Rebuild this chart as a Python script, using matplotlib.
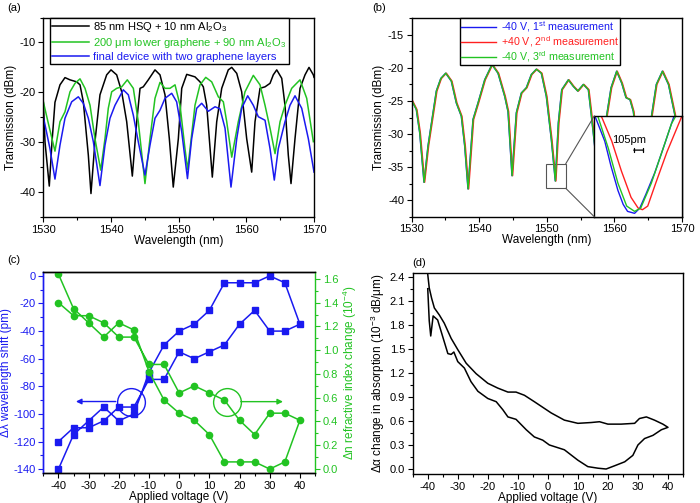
import matplotlib
matplotlib.use('Agg')
import matplotlib.pyplot as plt
from matplotlib.patches import Rectangle, ConnectionPatch
from matplotlib.ticker import MultipleLocator

plt.rcParams['font.family'] = ['Liberation Sans', 'DejaVu Sans']
plt.rcParams['font.size'] = 8
plt.rcParams['mathtext.fontset'] = 'custom'
plt.rcParams['mathtext.rm'] = 'Liberation Sans'
plt.rcParams['mathtext.it'] = 'Liberation Sans:italic'
plt.rcParams['axes.unicode_minus'] = False
plt.rcParams['axes.linewidth'] = 1.0

BLUE = '#1a1af0'
GREEN = '#22c322'
RED = '#ff2020'

# (a) transmission spectra
wl_hsq = [1530.0, 1530.25, 1530.88, 1531.28, 1531.72, 1532.46, 1533.2, 1533.94, 1534.93, 1535.42,
          1535.91, 1536.65, 1537.04, 1537.63, 1538.37, 1539.36, 1540.0, 1540.84, 1541.58, 1542.32,
          1543.15, 1543.8, 1544.29, 1544.77, 1545.51, 1546.5, 1547.24, 1547.98, 1548.62, 1549.2,
          1549.95, 1550.45, 1551.19, 1552.41, 1553.15, 1553.64, 1554.14, 1554.97, 1555.62, 1556.36,
          1557.33, 1557.84, 1558.58, 1559.31, 1560.05, 1560.79, 1561.28, 1562.02, 1562.76, 1563.5,
          1563.98, 1564.49, 1565.23, 1565.71, 1566.2, 1566.6, 1567.19, 1567.93, 1568.67, 1569.26,
          1569.9, 1570.0]
tr_hsq = [-22, -30, -38.8, -30, -22, -18.5, -17.05, -17.5, -17.9, -18.5,
          -21.9, -32.6, -40.3, -29.9, -20.5, -16.5, -15.5, -16.5, -19.9, -25.9,
          -36.8, -25.9, -19.2, -18.9, -17.5, -15.5, -16.5, -20.5, -29.3, -39,
          -29.3, -19.2, -16.4, -16.9, -17.9, -18.9, -22.6, -37, -25.9, -19.2,
          -15.5, -15.0, -16.2, -19.9, -29.3, -36, -25.9, -19.2, -18.9, -18.2,
          -16.5, -15.5, -17.2, -22.6, -32.6, -38.3, -29.3, -19.2, -16.5, -15.0,
          -16.5, -17.0]

wl_lower = [1530.0, 1530.7, 1531.72, 1532.46, 1533.2, 1533.94, 1534.68, 1535.42, 1536.16, 1536.9,
            1537.63, 1538.48, 1539.11, 1539.6, 1540.1, 1540.84, 1541.58, 1542.41, 1543.3, 1544.03,
            1545.02, 1545.76, 1546.5, 1547.24, 1547.98, 1548.72, 1549.46, 1550.2, 1550.93, 1551.33,
            1552.41, 1553.15, 1554.0, 1554.88, 1555.86, 1556.6, 1557.1, 1557.84, 1558.81, 1559.8,
            1561.03, 1562.02, 1562.76, 1563.5, 1564.24, 1564.98, 1565.71, 1566.7, 1567.93, 1568.92,
            1569.9]
tr_lower = [-21.9, -26, -31.8, -25.9, -23.9, -19.9, -18.2, -17.3, -19.2, -22.6,
            -29.3, -35.6, -29.3, -23.2, -19.9, -19.2, -18.9, -17.5, -19.2, -25.9,
            -38.3, -29.3, -21.2, -18.0, -19.2, -19.2, -18.5, -22.6, -31.3, -35.5,
            -22.6, -18.5, -17.0, -17.9, -20.9, -21.9, -25.9, -33.0, -25.9, -19.9,
            -16.6, -18.5, -22.6, -27.2, -32.3, -25.9, -22.6, -19.2, -17.5, -21.2,
            -29.9]

wl_final = [1530.0, 1530.98, 1531.72, 1532.46, 1533.2, 1534.19, 1535.17, 1535.91, 1536.65, 1537.39,
            1538.37, 1539.11, 1539.85, 1540.59, 1541.82, 1542.56, 1543.3, 1544.03, 1545.02, 1545.76,
            1546.5, 1547.24, 1547.98, 1548.97, 1549.7, 1550.45, 1551.3, 1551.92, 1552.66, 1553.4,
            1554.38, 1555.37, 1556.1, 1556.85, 1557.73, 1558.58, 1559.31, 1560.2, 1561.03, 1561.77,
            1562.76, 1563.5, 1564.13, 1564.72, 1565.71, 1566.45, 1567.19, 1568.18, 1569.16, 1570.0]
tr_final = [-24.9, -31.3, -37.4, -30.6, -25.2, -21.9, -20.9, -22.2, -25.2, -29.9,
            -38.7, -30.6, -25.2, -22.6, -19.5, -20.5, -24.6, -29.9, -36.6, -30.6,
            -25.2, -23.6, -21.2, -20.2, -21.9, -27.9, -37.3, -29.3, -23.2, -22.2,
            -23.8, -22.9, -23.3, -27.2, -39.0, -29.3, -23.2, -20.7, -22.6, -24.9,
            -25.6, -31.3, -37.6, -31.3, -25.9, -22.6, -20.7, -23.2, -29.3, -36.0]

# (b) repeated measurements (one trace, shifted per measurement)
wl_meas = [1530.0, 1530.68, 1531.18, 1531.82, 1532.41, 1533.15, 1533.64, 1534.3, 1535.03, 1535.86,
           1536.6, 1537.34, 1537.84, 1538.33, 1539.07, 1539.81, 1540.8, 1541.88, 1542.77, 1543.76,
           1544.25, 1544.84, 1545.48, 1546.22, 1546.96, 1547.7, 1548.44, 1549.18, 1549.92, 1550.66,
           1551.25, 1551.7, 1552.2, 1553.18, 1553.92, 1554.57, 1555.4, 1556.14, 1556.54, 1557.1,
           1557.6, 1558.2, 1558.85, 1559.5, 1560.33, 1561.08, 1561.71, 1562.3, 1562.8, 1563.5,
           1564.2, 1564.9, 1565.5, 1566.2, 1567.1, 1568.0, 1568.96, 1570.0]
tr_meas = [-24.9, -26.3, -29.8, -37.3, -31.8, -26.8, -23.5, -21.6, -20.8, -22.0,
           -25.3, -27.3, -31.8, -38.3, -27.8, -25.3, -21.8, -19.5, -20.8, -24.3,
           -26.6, -36.3, -26.8, -23.8, -23.0, -21.0, -20.2, -20.8, -24.3, -30.8,
           -37.1, -28.3, -23.3, -21.8, -22.8, -23.5, -22.5, -23.3, -26.8, -32,
           -40, -34, -27.2, -23.0, -20.5, -22.3, -24.5, -24.8, -26.6, -33,
           -41, -33, -27.2, -22.5, -20.5, -22.5, -27.2, -33]
meas_labels = ['-40 V, 1$^{\\rm st}$ measurement', '+40 V, 2$^{\\rm nd}$ measurement',
               '-40 V, 3$^{\\rm rd}$ measurement']
meas_colors = [BLUE, RED, GREEN]
meas_shift_nm = [0.0, 0.105, 0.02]

# (b) inset: zoom on the 1551 nm resonance
ins_wl_1 = [1550.758, 1550.87, 1550.94, 1551.02, 1551.08, 1551.13, 1551.21, 1551.27, 1551.34, 1551.44, 1551.55, 1551.66]
ins_tr_1 = [-34.0, -34.9, -35.78, -36.66, -37.16, -37.41, -37.48, -37.29, -36.79, -36.03, -35.03, -34.0]
ins_wl_2 = [1550.83, 1550.95, 1551.06, 1551.17, 1551.25, 1551.3, 1551.36, 1551.45, 1551.58, 1551.75]
ins_tr_2 = [-34.0, -34.9, -35.97, -36.91, -37.29, -37.35, -37.22, -36.41, -35.28, -34.0]
ins_wl_3 = [1550.79, 1550.91, 1551.02, 1551.12, 1551.21, 1551.28, 1551.4, 1551.51, 1551.63, 1551.68]
ins_tr_3 = [-34.0, -35.15, -36.4, -37.22, -37.41, -37.29, -36.41, -35.4, -34.28, -34.0]

# (c) resonance shift and index change vs voltage (sweep up, then down)
volt_up = [-40, -35, -30, -25, -20, -15, -10, -5, 0, 5, 10, 15, 20, 25, 30, 35, 40]
volt_down = [35, 30, 25, 20, 15, 10, 5, 0, -5, -10, -15, -20, -25, -30, -35, -40]
shift_up = [-140, -115, -105, -95, -105, -100, -70, -50, -40, -35, -25, -5, -5, -5, 0, -5, -35]
shift_down = [-40, -40, -25, -35, -50, -55, -60, -55, -75, -75, -95, -95, -105, -110, -110, -120]
dn_up = [1.64, 1.35, 1.23, 1.11, 1.23, 1.17, 0.82, 0.58, 0.47, 0.41, 0.29, 0.06, 0.06, 0.06, 0.0, 0.06, 0.41]
dn_down = [0.47, 0.47, 0.29, 0.41, 0.58, 0.64, 0.70, 0.64, 0.88, 0.88, 1.11, 1.11, 1.23, 1.29, 1.29, 1.40]

# (d) absorption change loop
volt_d = [-40.0, -39.5, -39.0, -38.2, -36.7, -35.0, -33.3, -32.2, -31.3, -30.0,
          -27.8, -25.6, -23.3, -20.0, -17.2, -15.0, -13.3, -10.6, -7.2, -4.5,
          -1.7, 0.5, 5.5, 10.0, 13.3, 16.7, 19.4, 22.2, 25.6, 28.3,
          30.0, 32.2, 35.0, 37.8, 40.0,
          38.3, 35.5, 32.8, 30.5, 28.9, 24.4, 20.0, 17.2, 14.4, 10.0,
          5.5, 1.1, -4.5, -7.8, -10.6, -13.3, -16.7, -20.0, -23.9, -27.2,
          -30.0, -32.2, -34.5, -36.1, -37.8, -38.7, -39.5, -40.0]
alpha_d = [2.25, 1.85, 1.66, 1.91, 1.86, 1.65, 1.44, 1.43, 1.46, 1.34,
           1.26, 1.09, 0.97, 0.88, 0.84, 0.74, 0.65, 0.62, 0.49, 0.40,
           0.36, 0.30, 0.24, 0.11, 0.03, 0.01, 0.0, 0.04, 0.09, 0.17,
           0.30, 0.38, 0.42, 0.49, 0.52,
           0.56, 0.61, 0.65, 0.63, 0.57, 0.56, 0.56, 0.59, 0.58, 0.57,
           0.61, 0.70, 0.84, 0.92, 0.96, 0.96, 1.01, 1.07, 1.19, 1.32,
           1.49, 1.63, 1.82, 1.92, 2.01, 2.13, 2.26, 2.43]

fig = plt.figure(figsize=(7, 5.03), dpi=100)
ax_a = fig.add_axes([0.0619, 0.5686, 0.3867, 0.3966])
ax_b = fig.add_axes([0.5881, 0.5692, 0.3861, 0.3944])
ax_c = fig.add_axes([0.0619, 0.0590, 0.3881, 0.4008])
ax_d = fig.add_axes([0.5896, 0.0577, 0.3861, 0.4002])

def style(ax):
    ax.tick_params(which='major', length=3.5, width=0.8, labelsize=8, pad=2)
    ax.tick_params(which='minor', length=2, width=0.8)

# ---- (a)
ax_a.plot(wl_hsq, tr_hsq, color='black', lw=1.1, label='85 nm HSQ + 10 nm Al$_2$O$_3$')
ax_a.plot(wl_lower, tr_lower, color=GREEN, lw=1.1, label='200 μm lower graphene + 90 nm Al$_2$O$_3$')
ax_a.plot(wl_final, tr_final, color=BLUE, lw=1.1, label='final device with two graphene layers')
ax_a.set_xlim(1530, 1570)
ax_a.set_ylim(-45, -5)
ax_a.xaxis.set_major_locator(MultipleLocator(10))
ax_a.xaxis.set_minor_locator(MultipleLocator(5))
ax_a.yaxis.set_major_locator(MultipleLocator(10))
ax_a.yaxis.set_minor_locator(MultipleLocator(5))
ax_a.set_xlabel('Wavelength (nm)', fontsize=8.5, labelpad=0)
ax_a.set_ylabel('Transmission (dBm)', fontsize=8.5, labelpad=2)
style(ax_a)
leg = ax_a.legend(loc='upper left', bbox_to_anchor=(0.025, 1.0), borderaxespad=0, fontsize=8,
                  handlelength=3.3, handletextpad=0.4, labelspacing=0.2, borderpad=0.2,
                  fancybox=False, edgecolor='black', framealpha=1, labelcolor='linecolor')
leg.get_frame().set_linewidth(1.0)

# ---- (b)
for shift, col, lab in zip(meas_shift_nm, meas_colors, meas_labels):
    ax_b.plot([w + shift for w in wl_meas], tr_meas, color=col, lw=1.0, label=lab)
ax_b.set_xlim(1530, 1570)
ax_b.set_ylim(-42.5, -12.5)
ax_b.xaxis.set_major_locator(MultipleLocator(10))
ax_b.xaxis.set_minor_locator(MultipleLocator(5))
ax_b.yaxis.set_major_locator(MultipleLocator(5))
ax_b.yaxis.set_minor_locator(MultipleLocator(2.5))
ax_b.set_xlabel('Wavelength (nm)', fontsize=8.5, labelpad=0)
ax_b.set_ylabel('Transmission (dBm)', fontsize=8.5, labelpad=2)
style(ax_b)
leg = ax_b.legend(loc='upper left', bbox_to_anchor=(0.179, 1.0), borderaxespad=0, fontsize=7.7,
                  handlelength=3.3, handletextpad=0.4, labelspacing=0.0, borderpad=0.1,
                  fancybox=False, edgecolor='black', framealpha=1, labelcolor='linecolor')
leg.get_frame().set_linewidth(1.0)

axins = ax_b.inset_axes([0.6755, 0.0, 0.3245, 0.5076])
axins.plot(ins_wl_1, ins_tr_1, color=BLUE, lw=1.0)
axins.plot(ins_wl_2, ins_tr_2, color=RED, lw=1.0)
axins.plot(ins_wl_3, ins_tr_3, color=GREEN, lw=1.0)
axins.set_xlim(1550.75, 1551.75)
axins.set_ylim(-37.6, -34.0)
axins.set_xticks([])
axins.set_yticks([])
axins.text(1551.15, -34.85, '105pm', ha='center', va='center', fontsize=8)
axins.annotate('', xy=(1551.2, -35.22), xytext=(1551.305, -35.22),
               arrowprops=dict(arrowstyle='|-|', lw=0.9, color='black', mutation_scale=1.5,
                               shrinkA=0, shrinkB=0))

rect_box = (1549.95, -38.2, 2.85, 3.7)
ax_b.add_patch(Rectangle(rect_box[:2], rect_box[2], rect_box[3], fill=False, ec='#555555', lw=0.8))
for ya, yb in [(rect_box[1] + rect_box[3], 1), (rect_box[1], 0)]:
    con = ConnectionPatch(xyA=(rect_box[0] + rect_box[2], ya), coordsA=ax_b.transData,
                          xyB=(0, yb), coordsB=axins.transAxes, color='#555555', lw=0.8)
    fig.add_artist(con)

# ---- (c)
ax_c2 = ax_c.twinx()
ax_c.plot(volt_up + volt_down, shift_up + shift_down, color=BLUE, lw=1.1, marker='s', ms=4)
ax_c2.plot(volt_up + volt_down, dn_up + dn_down, color=GREEN, lw=1.1, marker='o', ms=4.5)
ax_c.set_xlim(-45, 45)
ax_c.set_ylim(-143, 3)
ax_c2.set_ylim(-0.036, 1.66)
ax_c.xaxis.set_major_locator(MultipleLocator(10))
ax_c.xaxis.set_minor_locator(MultipleLocator(5))
ax_c.yaxis.set_major_locator(MultipleLocator(20))
ax_c.yaxis.set_minor_locator(MultipleLocator(10))
ax_c2.yaxis.set_major_locator(MultipleLocator(0.2))
ax_c2.yaxis.set_minor_locator(MultipleLocator(0.1))
ax_c2.yaxis.set_major_formatter(matplotlib.ticker.FormatStrFormatter('%.1f'))
style(ax_c)
style(ax_c2)
ax_c.tick_params(axis='y', which='both', colors=BLUE)
ax_c2.tick_params(axis='y', which='both', colors=GREEN)
ax_c.spines['left'].set_color(BLUE)
ax_c2.spines['left'].set_color(BLUE)
ax_c2.spines['right'].set_color(GREEN)
ax_c.spines['right'].set_visible(False)
ax_c.set_xlabel('Applied voltage (V)', fontsize=8.5, labelpad=0)
ax_c.set_ylabel('Δλ wavelength shift (pm)', fontsize=8.5, color=BLUE, labelpad=1)
ax_c2.set_ylabel('Δn refractive index change (10$^{-4}$)', fontsize=8.5, color=GREEN, labelpad=2)

ax_c.plot([-16], [-91], 'o', ms=20, mfc='none', mec=BLUE, mew=1.0)
ax_c.annotate('', xy=(-34.2, -91), xytext=(-21, -91),
              arrowprops=dict(arrowstyle='-|>', color=BLUE, lw=1.0, mutation_scale=8,
                              shrinkA=0, shrinkB=0))
ax_c2.plot([15.8], [0.567], 'o', ms=20, mfc='none', mec=GREEN, mew=1.0)
ax_c2.annotate('', xy=(34.4, 0.567), xytext=(20.4, 0.567),
               arrowprops=dict(arrowstyle='-|>', color=GREEN, lw=1.0, mutation_scale=8,
                               shrinkA=0, shrinkB=0))

# ---- (d)
ax_d.plot(volt_d, alpha_d, color='black', lw=1.1)
ax_d.set_xlim(-45, 45)
ax_d.set_ylim(-0.062, 2.45)
ax_d.xaxis.set_major_locator(MultipleLocator(10))
ax_d.xaxis.set_minor_locator(MultipleLocator(5))
ax_d.yaxis.set_major_locator(MultipleLocator(0.3))
ax_d.yaxis.set_minor_locator(MultipleLocator(0.15))
ax_d.yaxis.set_major_formatter(matplotlib.ticker.FormatStrFormatter('%.1f'))
style(ax_d)
ax_d.set_xlabel('Applied voltage (V)', fontsize=8.5, labelpad=0)
ax_d.set_ylabel('Δα change in absorption (10$^{-3}$ dB/μm)', fontsize=8.5, labelpad=2)

for x, y, lab in [(7, 8, '(a)'), (372, 8, '(b)'), (7, 260, '(c)'), (412, 263, '(d)')]:
    fig.text(x / 700, 1 - y / 503, lab, fontsize=8, va='center', ha='left')

fig.savefig('out.png', dpi=100)
